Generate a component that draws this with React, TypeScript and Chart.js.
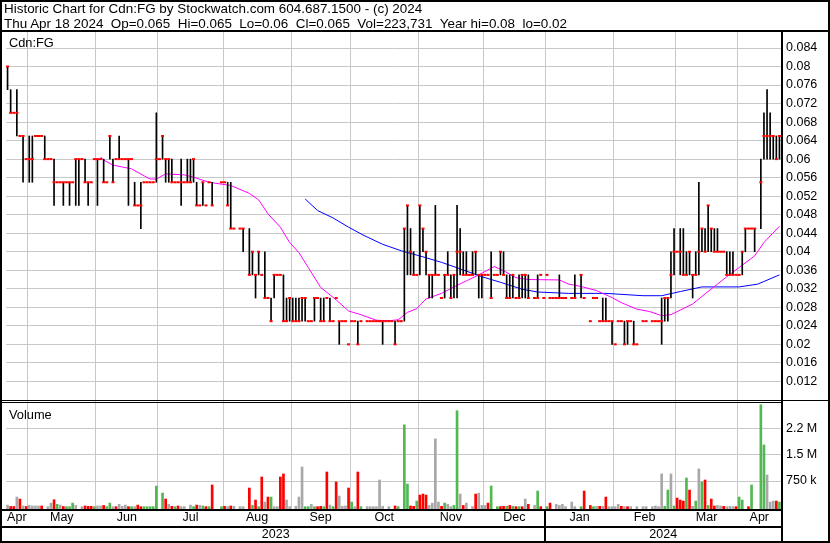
import React, { useEffect, useRef } from "react";
import { Chart, registerables } from "chart.js";

Chart.register(...registerables);

const FONT = '"Liberation Sans", Arial, Helvetica, sans-serif';

const TITLE_LINE_1 = "Historic Chart for Cdn:FG by Stockwatch.com 604.687.1500 - (c) 2024";
const TITLE_LINE_2 =
  "Thu Apr 18 2024  Op=0.065  Hi=0.065  Lo=0.06  Cl=0.065  Vol=223,731  Year hi=0.08  lo=0.02";
const PRICE_PANE_LABEL = "Cdn:FG";
const VOLUME_PANE_LABEL = "Volume";

// Daily bars, one entry per trading day (null = no trade)
const HIGH = [
  .08, .075, .07, .075, .065, .065, .06, .065, .065, .065,
  .065, .065, .065, .06, .06, .06, .055, .055, .055, .055,
  .055, .055, .06, .06, .06, .06, .055, .055, .06, .06,
  .06, .06, .055, .065, .06, .06, .065, .06, .06, .06,
  .06, .055, .05, .055, .055, .055, .055, .055, .07, .06,
  .065, .06, .06, .06, .055, .055, .06, .055, .06, .06,
  .06, .055, .05, .055, .05, .055, .055, null, null, .055,
  .055, .055, .055, .045, null, .045, .045, null, .045, .04,
  .035, .04, .035, .04, .03, .03, .035, .035, .035, .035,
  .03, .03, .03, .03, .03, .03, .03, .025, .025, .03,
  .03, .03, .03, .03, .03, .025, .03, .025, .025, .025,
  .02, .025, .025, .025, .025, null, .025, .025, .025, .025,
  .025, .025, .025, .025, .025, .025, .025, .025, .045, .05,
  .045, .04, .035, .05, .045, .04, .035, .035, .05, .035,
  .03, .035, .04, .035, .035, .05, .045, .04, .04, .035,
  .04, .04, .035, .035, .035, .035, .04, .035, .035, .04,
  .04, .035, .035, .035, .03, .035, .035, .035, .035, null,
  .03, .035, .035, .03, .035, .03, .03, .03, .035, .03,
  .03, null, .03, .035, null, .035, .03, null, .025, .03,
  .03, .025, .03, .03, .025, .025, .02, .025, .025, .025,
  .025, .025, .025, .02, null, .025, .025, null, .025, .025,
  .025, .03, .03, .03, .04, .045, .04, .045, .045, .04,
  .04, .035, .04, .055, .045, .045, .05, .045, .045, .045,
  .04, .04, .04, .04, .04, .035, .035, .04, .045, .045,
  .045, .045, null, .06, .07, .075, .07, .065, .065, .065,
];

const LOW = [
  .075, .07, .07, .065, .065, .055, .06, .055, .055, .065,
  .065, .065, .06, .06, .06, .05, .055, .055, .05, .055,
  .05, .055, .05, .05, .06, .055, .05, .055, .06, .05,
  .06, .055, .055, .06, .055, .06, .06, .06, .06, .05,
  .06, .05, .05, .045, .055, .055, .055, .055, .055, .06,
  .06, .055, .055, .055, .055, .055, .05, .055, .055, .055,
  .055, .05, .05, .05, .05, .055, .05, null, null, .055,
  .055, .05, .045, .045, null, .045, .04, null, .035, .035,
  .03, .035, .035, .03, .03, .025, .03, .035, .035, .025,
  .025, .025, .025, .025, .025, .025, .025, .025, .025, .025,
  .03, .025, .025, .03, .025, .025, .03, .02, .025, .025,
  .02, .025, .025, .02, .025, null, .025, .025, .025, .025,
  .025, .02, .025, .025, .025, .02, .025, .025, .025, .035,
  .035, .035, .035, .035, .04, .035, .03, .03, .035, .035,
  .03, .03, .035, .03, .03, .03, .035, .035, .035, .035,
  .035, .035, .03, .03, .035, .035, .03, .035, .035, .035,
  .035, .03, .03, .03, .03, .03, .03, .03, .03, null,
  .03, .03, .035, .03, .035, .03, .03, .03, .03, .03,
  .03, null, .03, .03, null, .03, .03, null, .025, .03,
  .03, .025, .025, .025, .025, .02, .02, .025, .025, .02,
  .02, .025, .02, .02, null, .025, .025, null, .025, .025,
  .025, .02, .025, .025, .03, .035, .04, .035, .035, .035,
  .035, .03, .035, .035, .04, .04, .04, .04, .04, .04,
  .04, .04, .035, .035, .035, .035, .035, .035, .04, .045,
  .045, .04, null, .045, .06, .06, .06, .06, .06, .06,
];

const CLOSE = [
  .08, .07, .07, .07, .065, .065, .06, .06, .06, .065,
  .065, .065, .06, .06, .06, .055, .055, .055, .055, .055,
  .055, .055, .06, .06, .06, .055, .055, .055, .06, .06,
  .06, .055, .055, .065, .055, .06, .06, .06, .06, .06,
  .06, .05, .05, .05, .055, .055, .055, .055, .06, .06,
  .065, .06, .06, .055, .055, .055, .055, .055, .055, .055,
  .06, .05, .05, .055, .05, .055, .05, null, null, .055,
  .055, .05, .045, .045, null, .045, .045, null, .035, .04,
  .035, .04, .035, .03, .03, .025, .035, .035, .035, .025,
  .025, .03, .025, .025, .025, .03, .03, .025, .025, .03,
  .03, .025, .025, .03, .025, .025, .03, .025, .025, .025,
  .02, .025, .025, .02, .025, null, .025, .025, .025, .025,
  .025, .025, .025, .025, .025, .02, .025, .025, .045, .05,
  .04, .035, .035, .05, .045, .04, .035, .035, .035, .035,
  .03, .035, .035, .03, .035, .04, .04, .035, .035, .035,
  .035, .04, .035, .035, .035, .035, .03, .035, .035, .04,
  .035, .03, .03, .035, .03, .03, .035, .035, .03, null,
  .03, .03, .035, .03, .035, .03, .03, .03, .03, .03,
  .03, null, .03, .03, null, .035, .03, null, .025, .03,
  .03, .025, .025, .025, .025, .025, .02, .025, .025, .02,
  .025, .025, .02, .02, null, .025, .025, null, .025, .025,
  .025, .025, .03, .03, .035, .04, .04, .04, .035, .035,
  .04, .035, .035, .04, .045, .04, .05, .045, .04, .04,
  .04, .04, .035, .035, .035, .035, .035, .04, .045, .045,
  .045, .045, null, .055, .065, .065, .065, .065, .06, .065,
];

// Daily volume, thousands of shares
const VOLUME_K = [
  55, 15, 15, 287, 229, 30, 15, 45, 30, 30,
  30, 30, 0, 10, 113, 209, 76, 55, 15, 10,
  10, 113, 45, 0, 10, 30, 20, 20, 10, 30,
  30, 45, 10, 113, 10, 10, 76, 20, 55, 10,
  10, 10, 55, 10, 10, 10, 10, 10, 605, 0,
  403, 229, 76, 20, 10, 30, 10, 10, 0, 55,
  10, 55, 45, 30, 10, 10, 634, 0, 0, 10,
  20, 10, 30, 20, 0, 10, 10, 0, 547, 45,
  200, 10, 866, 142, 287, 287, 10, 10, 866, 953,
  200, 10, 0, 20, 287, 1155, 10, 10, 76, 10,
  10, 20, 10, 1010, 55, 10, 721, 316, 20, 30,
  547, 142, 10, 1010, 10, 0, 10, 10, 10, 10,
  779, 20, 0, 10, 0, 30, 10, 0, 2370, 663,
  30, 20, 171, 345, 374, 345, 45, 113, 1966, 142,
  20, 113, 76, 10, 45, 2777, 374, 45, 113, 0,
  10, 374, 400, 45, 45, 113, 605, 0, 10, 10,
  20, 20, 45, 20, 10, 10, 10, 229, 76, 0,
  45, 460, 10, 0, 10, 113, 0, 76, 45, 76,
  10, 0, 142, 10, 0, 10, 460, 0, 45, 10,
  20, 20, 20, 287, 10, 10, 10, 76, 20, 10,
  10, 10, 0, 10, 0, 10, 10, 0, 10, 30,
  10, 953, 20, 489, 953, 30, 258, 200, 171, 837,
  489, 20, 171, 1100, 721, 779, 45, 229, 30, 45,
  30, 20, 10, 20, 10, 10, 287, 200, 0, 10,
  634, 0, 0, 2950, 1790, 924, 142, 171, 171, 142,
];

// Day's move: u = up, d = down, n = unchanged, - = no trade
const VOLUME_DIR = [
  "nddndndnnn", "nd-nndundu", "uun-ndddun", "nduundnnnd", "undduuuuu-",
  "udndudnn-n", "udnudud--u", "dndn-nn-du", "dudndunndd", "nn-nnnuunu",
  "ddudnudnnn", "dundu-nnnn", "nn-n-du-uu", "ddudddnnnn", "dunnuundn-",
  "ndnnndu-ud", "dudududnd-", "nud-ud-nnn", "n-nn-ud-du", "ndndnnnndn",
  "dn-n-nn-nn", "nnuunudddu", "dnunududdn", "ndnnnduu-d", "u--uunnndu",
].join("");

// Moving averages (day index, value)
const MA_SHORT_DAY = [30, 31, 34, 40, 44, 46, 48, 51, 57, 60, 65, 72, 78, 81, 84, 88, 91, 94, 97, 101,
  106, 110, 114, 119, 123, 126, 129, 132, 135, 140, 144, 148, 152, 157, 160, 164, 168, 178, 181, 185,
  190, 195, 198, 203, 207, 211, 214, 217, 221, 225, 229, 232, 236, 241, 244, 249];
const MA_SHORT_VAL = [.0605, .0598, .0587, .0579, .0564, .0557, .0557, .0568, .0566, .0561, .0550, .0543,
  .0526, .0512, .0482, .0453, .0420, .0398, .0366, .0323, .0296, .0272, .0264, .0252, .0251, .0253, .0269,
  .0277, .0298, .0310, .0324, .0337, .0350, .0368, .0359, .0344, .0340, .0339, .0330, .0325, .0316, .0301,
  .0290, .0276, .0271, .0262, .0264, .0274, .0287, .0309, .0330, .0346, .0366, .0391, .0420, .0455];
const MA_LONG_DAY = [96, 100, 105, 110, 115, 121, 127, 134, 140, 146, 153, 159, 166, 171, 181, 193, 205,
  211, 217, 224, 236, 242, 249];
const MA_LONG_VAL = [.0514, .0489, .0473, .0453, .0435, .0416, .0402, .0389, .0377, .0363, .0346, .0334,
  .0319, .0313, .0310, .0310, .0305, .0305, .0314, .0324, .0324, .0330, .0350];

// Axis labels
const MONTH_NAMES = ["Apr", "May", "Jun", "Jul", "Aug", "Sep", "Oct", "Nov", "Dec", "Jan", "Feb", "Mar", "Apr"];
const MONTH_START = [7, 29, 49, 70, 92, 111, 133, 154, 174, 196, 216, 236];
const YEAR_NAMES = ["2023", "2024"];
const YEAR_START = [174];
const PRICE_TICKS = [.012, .016, .02, .024, .028, .032, .036, .04, .044, .048, .052, .056, .06, .064,
  .068, .072, .076, .08, .084];
const VOLUME_TICKS = [750000, 1500000, 2250000];
const VOLUME_TICK_LABELS = ["750 k", "1.5 M", "2.2 M"];

const GRID = "#c8c8c8";
const UP = "#52b852";
const DOWN = "#ff0000";
const FLAT = "#a8a8a8";

function mids(edges: number[]) {
  const out: number[] = [];
  for (let i = 0; i < edges.length - 1; i++) out.push((edges[i] + edges[i + 1]) / 2);
  return out;
}

const framePlugin = {
  id: "frame",
  afterDraw(chart: any) {
    const ctx = chart.ctx;
    const W = chart.width;
    const H = chart.height;
    const a = chart.chartArea;
    const yP = chart.scales.y;
    const xm = chart.scales.xm;
    const x = chart.scales.x;
    ctx.save();
    ctx.fillStyle = "#000";
    ctx.fillRect(0, 0, W, 2);
    ctx.fillRect(0, 0, 2, H);
    ctx.fillRect(W - 2, 0, 2, H);
    ctx.fillRect(0, H - 2, W, 2);
    ctx.fillRect(0, a.top - 2, W, 2);
    ctx.fillRect(Math.round(a.right), a.top, 2, H - a.top);
    const sep = Math.round(yP.bottom);
    ctx.fillRect(0, sep, W, 1);
    ctx.fillRect(0, sep + 2, Math.round(a.right), 1);
    ctx.fillRect(0, Math.round(a.bottom), Math.round(a.right), 2);
    ctx.fillRect(0, Math.round(xm.bottom), Math.round(a.right), 2);
    YEAR_START.forEach((s) => {
      const px = Math.round(x.getPixelForValue(s - 0.5));
      ctx.fillRect(px - 1, Math.round(a.bottom), 2, H - Math.round(a.bottom));
    });
    ctx.restore();
  },
};

export default function App() {
  const ref = useRef<HTMLCanvasElement>(null);

  useEffect(() => {
    const n = CLOSE.length;
    const xMin = -0.5;
    const xMax = n - 0.5;
    const monthEdges = [xMin, ...MONTH_START.map((s) => s - 0.5), xMax];
    const monthMids = mids(monthEdges);
    const yearMids = mids([xMin, ...YEAR_START.map((s) => s - 0.5), xMax]);

    const volMin = -57692;
    const volMax = 3086538;

    const rangeData: any[] = [];
    const closeData: any[] = [];
    const volData: any[] = [];
    const volColors: string[] = [];
    for (let i = 0; i < n; i++) {
      if (HIGH[i] != null && LOW[i] != null) rangeData.push({ x: i, y: [LOW[i], HIGH[i]] });
      if (CLOSE[i] != null) closeData.push({ x: i, y: CLOSE[i] });
      if (VOLUME_K[i] > 0) {
        volData.push({ x: i, y: [volMin, VOLUME_K[i] * 1000] });
        const d = VOLUME_DIR[i];
        volColors.push(d === "u" ? UP : d === "d" ? DOWN : FLAT);
      }
    }
    const maShort = MA_SHORT_DAY.map((d, i) => ({ x: d, y: MA_SHORT_VAL[i] }));
    const maLong = MA_LONG_DAY.map((d, i) => ({ x: d, y: MA_LONG_VAL[i] }));

    const tickFont = { family: FONT, size: 12.5 };

    const chart = new Chart(ref.current as HTMLCanvasElement, {
      type: "bar",
      data: {
        datasets: [
          {
            type: "line",
            data: closeData,
            yAxisID: "y",
            xAxisID: "x",
            showLine: false,
            pointStyle: "line",
            pointRadius: 1.5,
            pointBorderWidth: 2,
            pointBorderColor: "#ff0000",
            pointBackgroundColor: "#ff0000",
          } as any,
          {
            type: "bar",
            data: rangeData,
            yAxisID: "y",
            xAxisID: "x",
            backgroundColor: "#000",
            borderWidth: 0,
            barThickness: 1,
            grouped: false,
          } as any,
          {
            type: "line",
            data: maShort,
            yAxisID: "y",
            xAxisID: "x",
            borderColor: "#ff00ff",
            borderWidth: 1,
            pointRadius: 0,
            tension: 0,
          } as any,
          {
            type: "line",
            data: maLong,
            yAxisID: "y",
            xAxisID: "x",
            borderColor: "#0000ff",
            borderWidth: 1,
            pointRadius: 0,
            tension: 0,
          } as any,
          {
            type: "bar",
            data: volData,
            yAxisID: "yv",
            xAxisID: "x",
            backgroundColor: volColors,
            borderWidth: 0,
            barThickness: 2,
            grouped: false,
          } as any,
        ],
      },
      options: {
        responsive: false,
        animation: false,
        events: [],
        layout: { padding: { left: 2, top: 32, right: 0, bottom: 1 } },
        plugins: {
          legend: { display: false },
          tooltip: { enabled: false },
          title: { display: false },
        },
        scales: {
          x: {
            type: "linear",
            position: "bottom",
            min: xMin,
            max: xMax,
            offset: false,
            weight: 0,
            grid: { color: GRID, drawTicks: false, offset: false, lineWidth: 1 },
            border: { display: false },
            ticks: { display: false },
            afterBuildTicks: (s: any) => {
              s.ticks = MONTH_START.map((v) => ({ value: v - 0.5 }));
            },
            afterFit: (s: any) => {
              s.height = 0;
            },
          },
          xm: {
            type: "linear",
            position: "bottom",
            min: xMin,
            max: xMax,
            offset: false,
            weight: 1,
            grid: { display: false, drawTicks: false },
            border: { display: false },
            ticks: {
              autoSkip: false,
              maxRotation: 0,
              minRotation: 0,
              padding: 1,
              color: "#000",
              font: tickFont,
              callback: (_v: any, i: number) => MONTH_NAMES[i],
            },
            afterBuildTicks: (s: any) => {
              s.ticks = monthMids.map((v) => ({ value: v }));
            },
            afterFit: (s: any) => {
              s.height = 17;
            },
          },
          xy: {
            type: "linear",
            position: "bottom",
            min: xMin,
            max: xMax,
            offset: false,
            weight: 2,
            grid: { display: false, drawTicks: false },
            border: { display: false },
            ticks: {
              autoSkip: false,
              maxRotation: 0,
              minRotation: 0,
              padding: 1,
              color: "#000",
              font: tickFont,
              callback: (_v: any, i: number) => YEAR_NAMES[i],
            },
            afterBuildTicks: (s: any) => {
              s.ticks = yearMids.map((v) => ({ value: v }));
            },
            afterFit: (s: any) => {
              s.height = 16;
            },
          },
          y: {
            type: "linear",
            position: "right",
            stack: "panes",
            stackWeight: 368,
            min: 0.007974,
            max: 0.087456,
            grid: { color: GRID, drawTicks: false },
            border: { display: false },
            ticks: {
              autoSkip: false,
              padding: 5,
              color: "#000",
              font: tickFont,
              callback: (v: any) => String(Number(Number(v).toFixed(3))),
            },
            afterBuildTicks: (s: any) => {
              s.ticks = PRICE_TICKS.map((v) => ({ value: v }));
            },
            afterFit: (s: any) => {
              s.width = 49;
            },
          },
          yv: {
            type: "linear",
            position: "right",
            stack: "panes",
            stackWeight: 109,
            min: volMin,
            max: volMax,
            grid: { color: GRID, drawTicks: false },
            border: { display: false },
            ticks: {
              autoSkip: false,
              padding: 5,
              color: "#000",
              font: tickFont,
              callback: (_v: any, i: number) => VOLUME_TICK_LABELS[i],
            },
            afterBuildTicks: (s: any) => {
              s.ticks = VOLUME_TICKS.map((v) => ({ value: v }));
            },
            afterFit: (s: any) => {
              s.width = 49;
            },
          },
        },
      } as any,
      plugins: [framePlugin],
    });

    return () => chart.destroy();
  }, []);

  const textBase: React.CSSProperties = {
    position: "absolute",
    fontFamily: FONT,
    color: "#000",
    whiteSpace: "pre",
    lineHeight: "15px",
  };

  return (
    <div style={{ position: "relative", width: 830, height: 543, background: "#fff", overflow: "hidden" }}>
      <style>{`body{margin:0;}`}</style>
      <canvas ref={ref} width={830} height={543} style={{ position: "absolute", left: 0, top: 0, width: 830, height: 543 }} />
      <div style={{ ...textBase, left: 4, top: 1, fontSize: "13.45px" }}>{TITLE_LINE_1}</div>
      <div style={{ ...textBase, left: 4, top: 16, fontSize: "13.45px" }}>{TITLE_LINE_2}</div>
      <div style={{ ...textBase, left: 9, top: 34.5, fontSize: "12.8px" }}>{PRICE_PANE_LABEL}</div>
      <div style={{ ...textBase, left: 9, top: 406.5, fontSize: "12.8px" }}>{VOLUME_PANE_LABEL}</div>
    </div>
  );
}
